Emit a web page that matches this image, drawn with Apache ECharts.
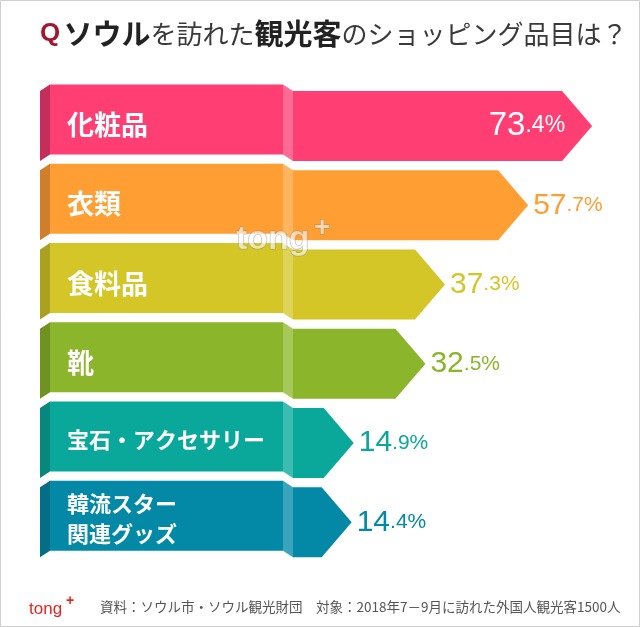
<!DOCTYPE html>
<html><head><meta charset="utf-8">
<script src="https://cdn.jsdelivr.net/npm/echarts@6/dist/echarts.min.js"></script>
<style>html,body{margin:0;padding:0;background:#fff}#c{width:640px;height:627px}</style>
</head><body><div id="c"></div>
<script>
const categories = ['化粧品', '衣類', '食料品', '靴', '宝石・アクセサリー', '韓流スター\n関連グッズ'];
const values = [73.4, 57.7, 37.3, 32.5, 14.9, 14.4];
const mainColors = ['#FF3F73', '#FF9E33', '#D4C626', '#8BB52A', '#0AA89B', '#0389A6'];
const darkColors = ['#C42E5A', '#CF7F2B', '#ABA01F', '#6F9222', '#08877C', '#036E86'];
const lightColors = ['#FF6B92', '#FFB560', '#DFD45A', '#A6C85A', '#3DBDB2', '#3AA4BD'];
const titleQ = 'Q';
const titleParts = [['b', 'ソウル'], ['n', 'を訪れた'], ['b', '観光客'], ['n', 'のショッピング品目は？']];
const sourceNote = '資料：ソウル市・ソウル観光財団　対象：2018年7－9月に訪れた外国人観光客1500人';

const CJK = "'Noto Sans CJK JP', 'Noto Sans', sans-serif";
const NUM = "'Liberation Sans', Arial, sans-serif";
const LOGO = "'Liberation Sans', Arial, sans-serif";

function renderItem(params, api) {
  const i = params.dataIndex;
  const v = api.value(0);
  const tip = api.coord([v, i]);
  const origin = api.coord([0, i]);
  const band = api.size([0, 1])[1];
  const h = band * 0.883;
  const cy = tip[1];
  const T = cy - h / 2, B = cy + h / 2;
  const x0 = origin[0];
  const xt = tip[0];
  const depth = 30;
  const lift = 6.5;
  const tabStart = x0 - 243;
  const main = mainColors[i], dark = darkColors[i], light = lightColors[i];
  const name = categories[i];
  const small = name.length > 4;
  const parts = String(v).split('.');
  const inside = v > 60;
  const children = [
    { type: 'polygon', shape: { points: [[tabStart, T - lift], [x0 - 10, T - lift], [x0 - 10, B - lift], [tabStart, B - lift]] }, style: { fill: main } },
    { type: 'polygon', shape: { points: [[tabStart - 10, T], [tabStart, T - lift], [tabStart, B - lift], [tabStart - 10, B]] }, style: { fill: dark } },
    { type: 'polygon', shape: { points: [[x0, T], [xt - depth, T], [xt, cy], [xt - depth, B], [x0, B]] }, style: { fill: main } },
    { type: 'polygon', shape: { points: [[x0 - 10, T - lift], [x0, T], [x0, B], [x0 - 10, B - lift]] }, style: { fill: light } },
    { type: 'text', style: { x: tabStart + 17, y: cy - lift / 2 + (small ? 0 : 2), text: name, fill: '#fff', font: 'bold ' + (small ? 22 : 27) + 'px ' + CJK, lineHeight: 30, align: 'left', verticalAlign: 'middle' } },
    { type: 'text', style: {
        x: inside ? xt - 27 : xt + 5, y: cy,
        text: '{a|' + parts[0] + '}{b|.' + (parts[1] || '0') + '%}',
        align: inside ? 'right' : 'left', verticalAlign: 'middle',
        rich: {
          a: { fontFamily: NUM, fontSize: inside ? 33 : 30, fill: inside ? '#fff' : main, lineHeight: 34 },
          b: { fontFamily: NUM, fontSize: inside ? 23 : 21, fill: inside ? '#fff' : main, lineHeight: 34 }
        }
      } }
  ];
  return { type: 'group', children };
}

const chart = echarts.init(document.getElementById('c'), null, { renderer: 'canvas' });
chart.setOption({
  animation: false,
  backgroundColor: '#fff',
  grid: { left: 293, right: 21, top: 86.4, bottom: 65 },
  xAxis: { type: 'value', min: 0, max: 80, show: false },
  yAxis: { type: 'category', data: categories, inverse: true, show: false },
  series: [{
    type: 'custom',
    renderItem,
    data: values.map((v, i) => [v, i]),
    encode: { x: 0, y: 1 }
  }],
  graphic: [
    { type: 'rect', shape: { x: 0.5, y: 0.5, width: 639, height: 626 }, style: { fill: 'none', stroke: '#cfcfcf', lineWidth: 1 }, z: 100 },
    { type: 'text', x: 40, y: 34, style: {
        text: '{q|' + titleQ + '} ' + titleParts.map(p => '{' + p[0] + '|' + p[1] + '}').join(''),
        verticalAlign: 'middle', align: 'left',
        rich: {
          q: { fontFamily: LOGO, fontWeight: 'bold', fontSize: 26, fill: '#A3162F', lineHeight: 40 },
          b: { fontFamily: CJK, fontWeight: 'bold', fontSize: 29, fill: '#222', lineHeight: 40 },
          n: { fontFamily: CJK, fontSize: 26, fill: '#3a3a3a', lineHeight: 40 }
        }
      } },
    { type: 'text', x: 100, y: 607, style: { text: sourceNote, font: '13.5px ' + CJK, fill: '#555', verticalAlign: 'middle' } },
    { type: 'text', x: 29, y: 609, style: { text: 'tong', font: '17px ' + LOGO, fill: '#E8231F', verticalAlign: 'middle' } },
    { type: 'text', x: 66, y: 601, style: { text: '+', font: 'bold 14px ' + LOGO, fill: '#E8231F', verticalAlign: 'middle' } },
    { type: 'text', x: 236, y: 240, z: 50, style: { text: 'tong', font: 'bold 34px ' + LOGO, fill: 'rgba(255,255,255,0.6)', stroke: 'rgba(110,110,110,0.45)', lineWidth: 1, verticalAlign: 'middle' } },
    { type: 'text', x: 314, y: 228, z: 50, style: { text: '+', font: 'bold 28px ' + LOGO, fill: 'rgba(255,255,255,0.6)', stroke: 'rgba(110,110,110,0.45)', lineWidth: 1, verticalAlign: 'middle' } }
  ]
});
</script>
</body></html>
